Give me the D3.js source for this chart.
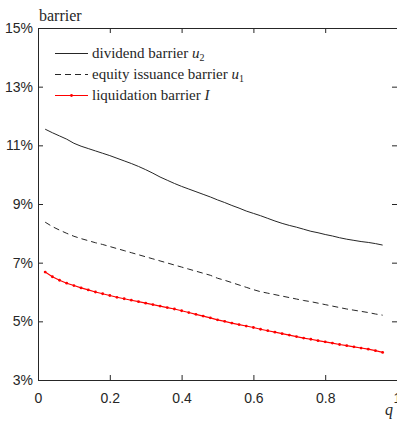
<!DOCTYPE html>
<html>
<head>
<meta charset="utf-8">
<script src="https://cdn.jsdelivr.net/npm/d3@7"></script>
<style>
  body { margin: 0; background: #fff; }
  svg { display: block; }
  .tick text { font-family: "Liberation Sans", Arial, sans-serif; font-size: 14px; fill: #262626; }
  .tick line { stroke: #262626; }
  .serif { font-family: "Liberation Serif", "Times New Roman", serif; }
</style>
</head>
<body>
<div id="chart"></div>
<script>
// q grid (every 0.02, from 0.02 to 0.96)
const qValues = [0.02,0.04,0.06,0.08,0.10,0.12,0.14,0.16,0.18,0.20,0.22,0.24,0.26,0.28,0.30,0.32,
  0.34,0.36,0.38,0.40,0.42,0.44,0.46,0.48,0.50,0.52,0.54,0.56,0.58,0.60,0.62,0.64,
  0.66,0.68,0.70,0.72,0.74,0.76,0.78,0.80,0.82,0.84,0.86,0.88,0.90,0.92,0.94,0.96];

// dividend barrier u2 (%)
const dividendBarrier = [11.55,11.43,11.32,11.21,11.07,10.97,10.89,10.81,10.73,10.65,10.56,10.47,
  10.38,10.28,10.17,10.05,9.92,9.81,9.70,9.60,9.51,9.42,9.33,9.24,9.14,9.05,8.95,8.86,8.76,8.68,
  8.60,8.51,8.42,8.34,8.27,8.21,8.14,8.07,8.02,7.96,7.91,7.85,7.80,7.76,7.72,7.69,7.65,7.60];

// equity issuance barrier u1 (%)
const issuanceBarrier = [8.38,8.23,8.11,8.00,7.90,7.82,7.75,7.68,7.62,7.55,7.48,7.41,7.34,7.27,
  7.20,7.13,7.06,6.99,6.92,6.85,6.78,6.71,6.64,6.57,6.47,6.40,6.32,6.24,6.16,6.08,6.01,5.96,
  5.91,5.86,5.81,5.76,5.71,5.67,5.62,5.57,5.52,5.47,5.42,5.38,5.34,5.30,5.25,5.21];

// liquidation barrier I (%)
const liquidationBarrier = [6.68,6.52,6.40,6.30,6.22,6.14,6.07,6.00,5.94,5.88,5.82,5.77,5.72,5.67,
  5.62,5.57,5.52,5.47,5.42,5.36,5.30,5.24,5.18,5.12,5.05,5.00,4.94,4.89,4.84,4.79,4.73,4.68,
  4.63,4.58,4.53,4.48,4.43,4.39,4.34,4.30,4.26,4.21,4.17,4.13,4.09,4.05,4.00,3.94];

const xTicks = [0, 0.2, 0.4, 0.6, 0.8, 1];
const yTicks = [3, 5, 7, 9, 11, 13, 15];

const width = 397, height = 421;
const margin = { top: 28, right: 0, bottom: 41, left: 38 };

const svg = d3.select('#chart')
  .append('svg')
  .attr('width', width)
  .attr('height', height);

const x = d3.scaleLinear().domain([0, 1]).range([margin.left, width - margin.right]);
const y = d3.scaleLinear().domain([3, 15]).range([height - margin.bottom, margin.top]);

// axes (ticks point inward, MATLAB style)
svg.append('g')
  .attr('transform', `translate(0,${y(3)})`)
  .call(d3.axisBottom(x).tickValues(xTicks).tickFormat(d3.format('')).tickSizeInner(-5).tickSizeOuter(0).tickPadding(13))
  .call(g => g.select('.domain').remove());

svg.append('g')
  .attr('transform', `translate(0,${y(15)})`)
  .call(d3.axisTop(x).tickValues(xTicks).tickFormat('').tickSizeInner(-5).tickSizeOuter(0))
  .call(g => g.select('.domain').remove());

svg.append('g')
  .attr('transform', `translate(${x(0)},0)`)
  .call(d3.axisLeft(y).tickValues(yTicks).tickFormat(d => d + '%').tickSizeInner(-5).tickSizeOuter(0).tickPadding(5))
  .call(g => g.select('.domain').remove());

svg.append('g')
  .attr('transform', `translate(${x(1)},0)`)
  .call(d3.axisRight(y).tickValues(yTicks).tickFormat('').tickSizeInner(-5).tickSizeOuter(0))
  .call(g => g.select('.domain').remove());

// box
svg.append('rect')
  .attr('x', x(0) + 0.5)
  .attr('y', y(15) + 0.5)
  .attr('width', x(1) - x(0))
  .attr('height', y(3) - y(15))
  .attr('fill', 'none')
  .attr('stroke', '#262626')
  .attr('stroke-width', 1);

const rows = qValues.map((q, i) => ({
  q: q,
  u2: dividendBarrier[i],
  u1: issuanceBarrier[i],
  l: liquidationBarrier[i]
}));

const lineU2 = d3.line().x(d => x(d.q)).y(d => y(d.u2));
const lineU1 = d3.line().x(d => x(d.q)).y(d => y(d.u1));
const lineL = d3.line().x(d => x(d.q)).y(d => y(d.l));

svg.append('path')
  .datum(rows)
  .attr('fill', 'none')
  .attr('stroke', '#262626')
  .attr('stroke-width', 1)
  .attr('d', lineU2);

svg.append('path')
  .datum(rows)
  .attr('fill', 'none')
  .attr('stroke', '#262626')
  .attr('stroke-width', 1)
  .attr('stroke-dasharray', '6,4')
  .attr('d', lineU1);

svg.append('path')
  .datum(rows)
  .attr('fill', 'none')
  .attr('stroke', 'red')
  .attr('stroke-width', 1.2)
  .attr('d', lineL);

svg.append('g')
  .selectAll('circle')
  .data(rows)
  .join('circle')
  .attr('cx', d => x(d.q))
  .attr('cy', d => y(d.l))
  .attr('r', 1.4)
  .attr('fill', 'red');

// axis labels
svg.append('text')
  .attr('class', 'serif')
  .attr('x', 39)
  .attr('y', 21)
  .attr('font-size', 16)
  .attr('fill', '#262626')
  .text('barrier');

svg.append('text')
  .attr('class', 'serif')
  .attr('x', 385)
  .attr('y', 415)
  .attr('font-style', 'italic')
  .attr('font-size', 16)
  .attr('fill', '#262626')
  .text('q');

// legend
const legend = svg.append('g')
  .attr('class', 'serif')
  .attr('font-size', 15)
  .attr('fill', '#262626');

const legendItems = [
  { name: 'dividend barrier ', sym: 'u', sub: '2', color: '#262626', dash: null, marker: false },
  { name: 'equity issuance barrier ', sym: 'u', sub: '1', color: '#262626', dash: '6,4', marker: false },
  { name: 'liquidation barrier ', sym: 'I', sub: null, color: 'red', dash: null, marker: true }
];

legendItems.forEach((item, i) => {
  const yy = 53 + i * 21;
  legend.append('line')
    .attr('x1', 55).attr('x2', 88)
    .attr('y1', yy + 0.5).attr('y2', yy + 0.5)
    .attr('stroke', item.color)
    .attr('stroke-width', item.marker ? 1.2 : 1)
    .attr('stroke-dasharray', item.dash);
  if (item.marker) {
    legend.append('circle')
      .attr('cx', 71.5).attr('cy', yy + 0.5).attr('r', 1.4).attr('fill', 'red');
  }
  const t = legend.append('text')
    .attr('x', 92)
    .attr('y', yy + 5);
  t.append('tspan').text(item.name);
  t.append('tspan').attr('font-style', 'italic').text(item.sym);
  if (item.sub) {
    t.append('tspan').attr('font-size', 10).attr('dy', 3).text(item.sub);
  }
});
</script>
</body>
</html>
